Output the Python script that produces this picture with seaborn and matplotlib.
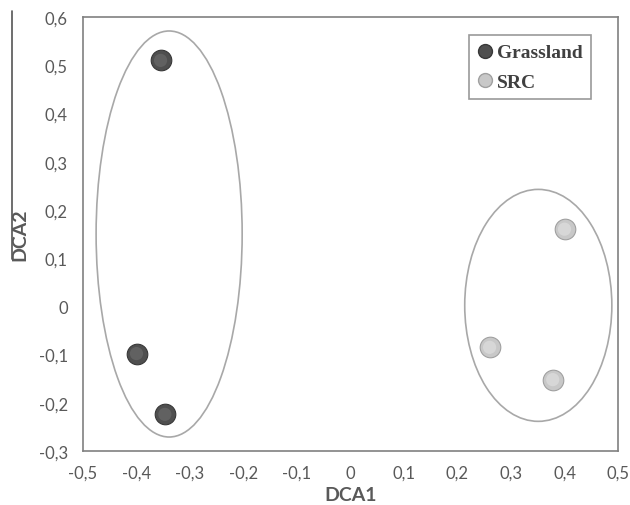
import matplotlib
matplotlib.use("Agg")
import matplotlib.pyplot as plt
import seaborn as sns
import pandas as pd
from matplotlib.patches import Ellipse
from matplotlib.lines import Line2D

# data
groups = ["Grassland", "Grassland", "Grassland", "SRC", "SRC", "SRC"]
dca1 = [-0.355, -0.40, -0.347, 0.40, 0.26, 0.378]
dca2 = [0.51, -0.098, -0.224, 0.16, -0.085, -0.152]
xticks = [-0.5, -0.4, -0.3, -0.2, -0.1, 0, 0.1, 0.2, 0.3, 0.4, 0.5]
yticks = [-0.3, -0.2, -0.1, 0, 0.1, 0.2, 0.3, 0.4, 0.5, 0.6]
ell_centers = [(-0.339, 0.150), (0.351, 0.002)]
ell_sizes = [(0.273, 0.842), (0.275, 0.481)]

df = pd.DataFrame({"DCA1": dca1, "DCA2": dca2, "group": groups})

sns.set_theme(style="white")
plt.rcParams["font.family"] = ["Lato", "DejaVu Sans"]

fig = plt.figure(figsize=(6.3, 5.06), dpi=100)
ax = fig.add_axes([83/630, 1-452/506, (618-83)/630, (452-18)/506])

palette = {"Grassland": "#4f4f4f", "SRC": "#c8c8c8"}
edges = {"Grassland": "#383838", "SRC": "#a0a0a0"}
hl = {"Grassland": "#6e6e6e", "SRC": "#e2e2e2"}

for g in ["Grassland", "SRC"]:
    sub = df[df.group == g]
    sns.scatterplot(data=sub, x="DCA1", y="DCA2", color=palette[g], s=220,
                    edgecolor=edges[g], linewidth=0.8, ax=ax, zorder=3, legend=False)
    sns.scatterplot(data=sub, x="DCA1", y="DCA2", color=hl[g], s=90,
                    edgecolor="none", alpha=0.6, ax=ax, zorder=4, legend=False)

for c, (w, h) in zip(ell_centers, ell_sizes):
    ax.add_patch(Ellipse(c, w, h, fill=False, edgecolor="#a8a8a8", linewidth=1.2, zorder=2))

ax.set_xlim(-0.5, 0.5)
ax.set_ylim(-0.3, 0.6)
ax.set_xticks(xticks)
ax.set_yticks(yticks)
fmt = lambda v: "0" if abs(v) < 1e-9 else (f"{v:.1f}").replace(".", ",")
ax.set_xticklabels([fmt(v) for v in xticks])
ax.set_yticklabels([fmt(v) for v in yticks])
ax.tick_params(axis="both", length=0, labelsize=12, colors="#595959")
ax.tick_params(axis="y", pad=11)
ax.tick_params(axis="x", pad=10)
for sp in ax.spines.values():
    sp.set_color("#808080")
    sp.set_linewidth(1.2)

ax.set_xlabel("DCA1", fontsize=14, fontweight="bold", color="#595959", labelpad=4)
ax.set_ylabel("")
fig.text(20/630, 1-235/506, "DCA2", rotation=90, fontsize=14, fontweight="bold",
         color="#595959", ha="center", va="center")
fig.add_artist(Line2D([12/630, 12/630], [1-12/506, 1-260/506], color="#555555",
                      linewidth=1.2, transform=fig.transFigure))

handles = [Line2D([0], [0], marker="o", linestyle="", markersize=10,
                  markerfacecolor=palette[g], markeredgecolor=edges[g]) for g in ["Grassland", "SRC"]]
leg = ax.legend(handles, ["Grassland", "SRC"], loc="upper right",
                bbox_to_anchor=((591-83)/535, 1-(36-18)/434), frameon=True,
                fancybox=False, handlelength=0.75, handletextpad=0.2,
                borderpad=0.45, labelspacing=0.6, borderaxespad=0,
                prop={"family": "Liberation Serif", "weight": "bold", "size": 14})
leg.get_frame().set_edgecolor("#808080")
leg.get_frame().set_linewidth(1.2)
for t in leg.get_texts():
    t.set_color("#404040")

fig.savefig("out.png", dpi=100, facecolor="white")
